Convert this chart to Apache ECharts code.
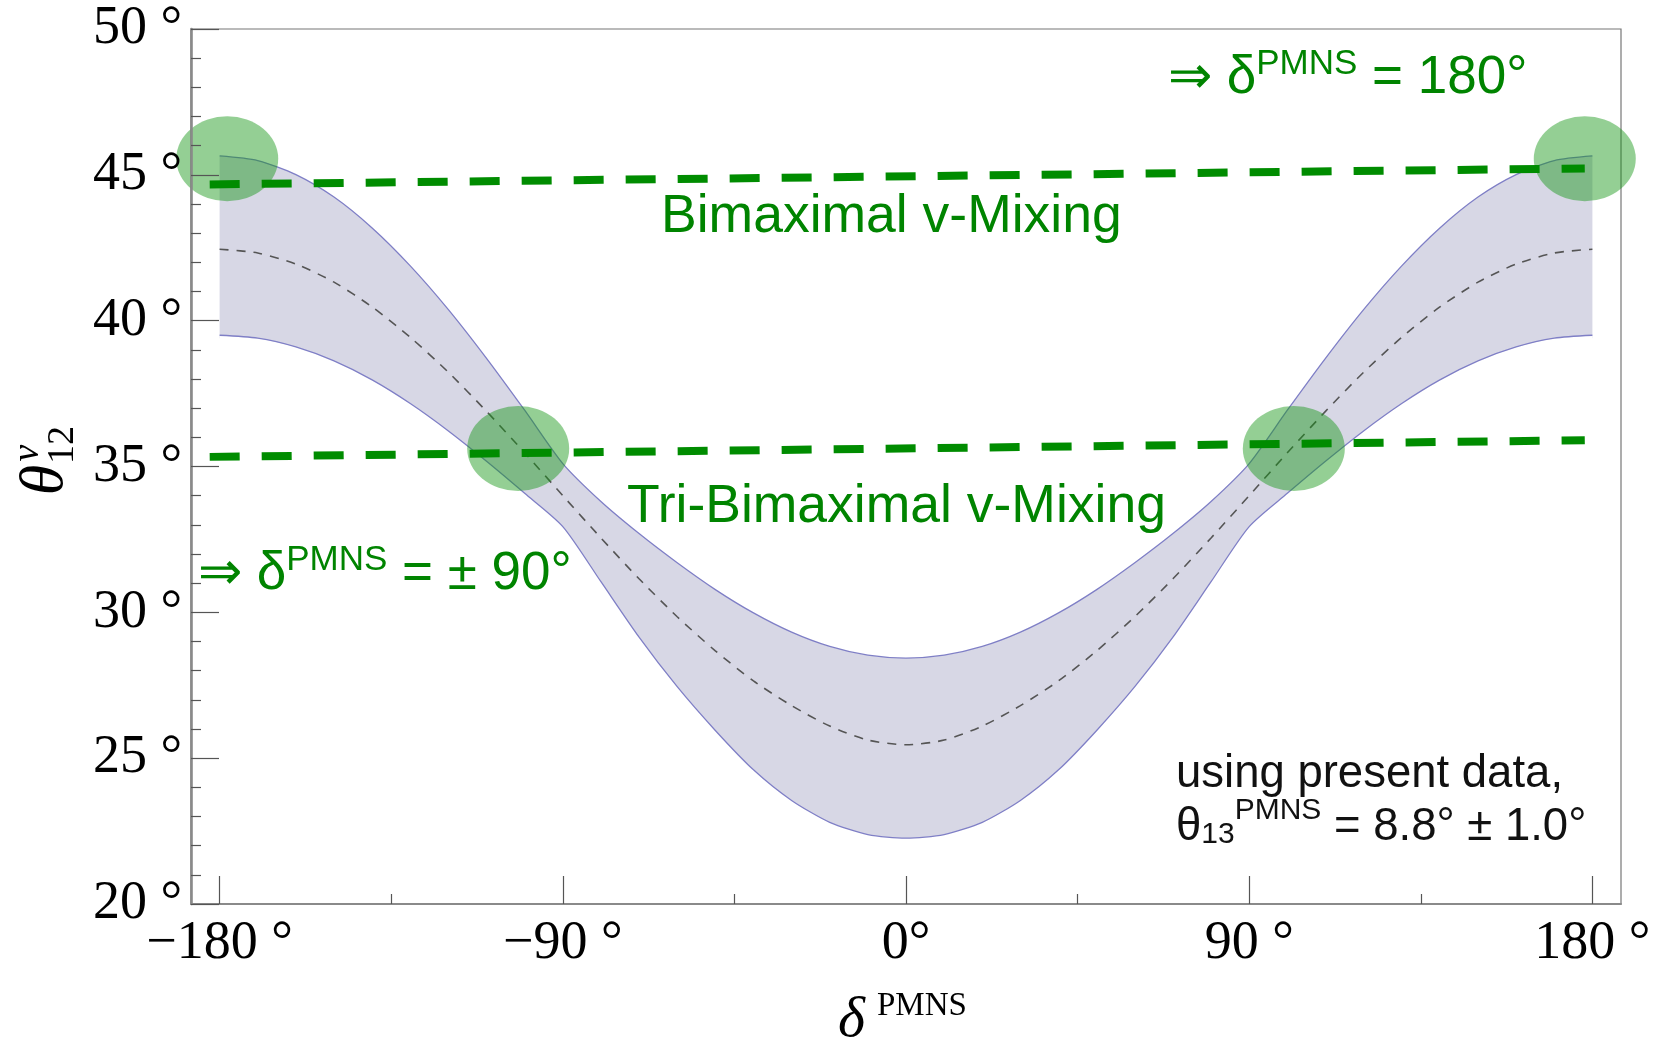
<!DOCTYPE html>
<html><head><meta charset="utf-8">
<script src="https://cdn.jsdelivr.net/npm/echarts@6/dist/echarts.min.js"></script>
<style>html,body{margin:0;padding:0;background:#fff;}#c{width:1657px;height:1042px;}</style>
</head><body><div id="c"></div>
<script>
// ---- data ----
const deltas = [-180,-170,-160,-150,-140,-130,-120,-110,-100,-90,-80,-70,-60,-50,-40,-30,-20,-10,0,10,20,30,40,50,60,70,80,90,100,110,120,130,140,150,160,170,180];
const upperBound = [45.65,45.49,45.01,44.24,43.18,41.88,40.38,38.71,36.93,35.10,33.80,32.70,31.70,30.78,29.98,29.32,28.83,28.53,28.43,28.53,28.83,29.32,29.98,30.78,31.70,32.70,33.80,35.10,36.93,38.71,40.38,41.88,43.18,44.24,45.01,45.49,45.65];
const centralValue = [42.45,42.32,41.94,41.32,40.47,39.43,38.23,36.89,35.47,34.00,32.55,31.15,29.85,28.68,27.65,26.80,26.10,25.62,25.46,25.62,26.10,26.80,27.65,28.68,29.85,31.15,32.55,34.00,35.47,36.89,38.23,39.43,40.47,41.32,41.94,42.32,42.45];
const lowerBound = [39.50,39.40,39.10,38.62,37.97,37.16,36.22,35.18,34.08,32.94,31.05,29.15,27.45,25.95,24.60,23.55,22.80,22.38,22.26,22.38,22.80,23.55,24.60,25.95,27.45,29.15,31.05,32.94,34.08,35.18,36.22,37.16,37.97,38.62,39.10,39.40,39.50];
const xTickValues = [-180,-90,0,90,180];
const xTickLabels = ['\u2212180 \u00b0','\u221290 \u00b0','0\u00b0','90 \u00b0','180 \u00b0'];
const xMinorTicks = [-135,-45,45,135];
const yTickValues = [20,25,30,35,40,45,50];
const yTickLabels = ['20 \u00b0','25 \u00b0','30 \u00b0','35 \u00b0','40 \u00b0','45 \u00b0','50 \u00b0'];
const circleX = [-178,-101.7,101.7,178];
const circleY = [45.55,35.62,35.62,45.55];
const bimaxX = [-182.6,178];
const bimaxY = [44.67,45.22];
const tbmX = [-182.6,178];
const tbmY = [35.33,35.90];

// ---- chart ----
const chart = echarts.init(document.getElementById('c'), null, {renderer:'canvas'});
const zip = (xs, ys) => xs.map((x, i) => [x, ys[i]]);
const GRID = {left:191, right:36, top:29, bottom:138};
const serif = "'Liberation Serif','Times New Roman',serif";
const sans = "'Liberation Sans',Arial,sans-serif";
const green = '#008400';
const bandLine = '#7f7fc6';
const yMin = yTickValues[0];
const nLast = deltas.length - 1;

const option = {
  animation:false,
  backgroundColor:'#fff',
  grid:[
    Object.assign({show:true, borderColor:'#777', borderWidth:1.2, backgroundColor:'transparent'}, GRID),
    Object.assign({show:false}, GRID)
  ],
  xAxis:[
    {type:'value', gridIndex:0, min:-187.5, max:187.5, position:'bottom', z:8,
     axisLine:{show:true, onZero:false, lineStyle:{color:'#8a8a8a', width:2}},
     axisTick:{show:true, inside:true, length:28, customValues:xTickValues, lineStyle:{color:'#555', width:1.2}},
     axisLabel:{show:true, customValues:xTickValues, margin:13, fontFamily:serif, fontSize:54, color:'#000',
       formatter:(v)=>{const i = xTickValues.indexOf(Math.round(v)); return i>=0 ? xTickLabels[i] : '';}},
     splitLine:{show:false}},
    {type:'value', gridIndex:1, min:-187.5, max:187.5, position:'bottom', z:8,
     axisLine:{show:false, onZero:false},
     axisTick:{show:true, inside:true, length:10, customValues:xMinorTicks, lineStyle:{color:'#555', width:1.2}},
     axisLabel:{show:false}, splitLine:{show:false}}
  ],
  yAxis:[
    {type:'value', gridIndex:0, min:20, max:50, interval:5, z:8,
     axisLine:{show:true, onZero:false, lineStyle:{color:'#8a8a8a', width:2.6}},
     axisTick:{show:true, inside:true, length:28, lineStyle:{color:'#555', width:1.2}},
     minorTick:{show:true, splitNumber:5, length:10, lineStyle:{color:'#555', width:1.2}},
     axisLabel:{margin:9, fontFamily:serif, fontSize:54, color:'#000',
       formatter:(v)=>{const i = yTickValues.indexOf(Math.round(v)); return i>=0 ? yTickLabels[i] : '';}},
     splitLine:{show:false}},
    {type:'value', gridIndex:1, min:20, max:50, show:false}
  ],
  series:[
    // band: fill under the upper bound, then mask below the lower bound with white
    {type:'line', name:'upper', data:zip(deltas, upperBound), showSymbol:false, z:1, smooth:0.25,
     lineStyle:{color:bandLine, width:1.3}, areaStyle:{color:'#d7d7e5', opacity:1, origin:'start'}},
    {type:'line', name:'lower', data:zip(deltas, lowerBound), showSymbol:false, z:2, smooth:0.25,
     lineStyle:{color:bandLine, width:1.3}, areaStyle:{color:'#ffffff', opacity:1, origin:'start'},
     markLine:{silent:true, symbol:['none','none'], label:{show:false}, animation:false,
       lineStyle:{color:'#ffffff', width:3, type:'solid'},
       data:[
         [{coord:[deltas[0], yMin]}, {coord:[deltas[0], lowerBound[0] - 0.1]}],
         [{coord:[deltas[nLast], yMin]}, {coord:[deltas[nLast], lowerBound[nLast] - 0.1]}]
       ]}},
    {type:'line', name:'central', data:zip(deltas, centralValue), showSymbol:false, z:3, smooth:0.25,
     lineStyle:{color:'#555', width:1.6, type:[9,8]}},
    {type:'scatter', name:'points', data:zip(circleX, circleY), symbol:'circle', symbolSize:[102,85], z:4,
     itemStyle:{color:'rgba(20,150,20,0.57)'}},
    {type:'line', name:'bimax', data:zip(bimaxX, bimaxY), showSymbol:false, z:5,
     lineStyle:{color:'#008c00', width:8, type:[30,22], cap:'butt'}},
    {type:'line', name:'tbm', data:zip(tbmX, tbmY), showSymbol:false, z:5,
     lineStyle:{color:'#008c00', width:8, type:[30,22], cap:'butt'}}
  ],
  graphic:[
    {type:'text', x:1168, y:76, z:10, style:{
      text:'{a|\u21d2 \u03b4}{s|PMNS}{a| = 180\u00b0}', verticalAlign:'middle', fill:green,
      rich:{a:{fontFamily:sans, fontSize:53, lineHeight:58, verticalAlign:'bottom', fill:green},
            s:{fontFamily:sans, fontSize:35, lineHeight:42, verticalAlign:'top', fill:green}}}},
    {type:'text', x:661, y:217, z:10, style:{
      text:'Bimaximal v-Mixing', verticalAlign:'middle', fill:green, fontFamily:sans, fontSize:53.5}},
    {type:'text', x:627, y:507, z:10, style:{
      text:'Tri-Bimaximal v-Mixing', verticalAlign:'middle', fill:green, fontFamily:sans, fontSize:53.5}},
    {type:'text', x:198, y:572, z:10, style:{
      text:'{a|\u21d2 \u03b4}{s|PMNS}{a| = \u00b1 90\u00b0}', verticalAlign:'middle', fill:green,
      rich:{a:{fontFamily:sans, fontSize:53, lineHeight:58, verticalAlign:'bottom', fill:green},
            s:{fontFamily:sans, fontSize:35, lineHeight:42, verticalAlign:'top', fill:green}}}},
    {type:'text', x:1176, y:774, z:10, style:{
      text:'using present data,', verticalAlign:'middle', fill:'#111', fontFamily:sans, fontSize:45.5}},
    {type:'text', x:1176, y:823, z:10, style:{
      text:'{a|\u03b8}{b|13}{s|PMNS}{a| = 8.8\u00b0 \u00b1 1.0\u00b0}', verticalAlign:'middle', fill:'#111',
      rich:{a:{fontFamily:sans, fontSize:45.5, lineHeight:54, verticalAlign:'bottom', fill:'#111'},
            b:{fontFamily:sans, fontSize:30, lineHeight:33, verticalAlign:'bottom', fill:'#111'},
            s:{fontFamily:sans, fontSize:30, lineHeight:37, verticalAlign:'top', fill:'#111'}}}},
    // x axis title
    {type:'text', x:838, y:1020, z:10, style:{
      text:'{d|\u03b4}{s|PMNS}', verticalAlign:'middle', fill:'#000',
      rich:{d:{fontFamily:serif, fontStyle:'italic', fontSize:58, lineHeight:60, verticalAlign:'bottom', fill:'#000'},
            s:{fontFamily:serif, fontSize:33, lineHeight:38, verticalAlign:'top', padding:[0,0,0,12], fill:'#000'}}}},
    // y axis title (rotated)
    {type:'text', x:46, y:480, rotation:Math.PI/2, z:10, style:{
      text:'\u03b8', align:'center', verticalAlign:'middle', fill:'#000', fontFamily:serif, fontStyle:'italic', fontSize:62}},
    {type:'text', x:63, y:445, rotation:Math.PI/2, z:10, style:{
      text:'12', align:'center', verticalAlign:'middle', fill:'#000', fontFamily:serif, fontSize:38}},
    {type:'text', x:28, y:453, rotation:Math.PI/2, z:10, style:{
      text:'\u03bd', align:'center', verticalAlign:'middle', fill:'#000', fontFamily:serif, fontStyle:'italic', fontSize:38}}
  ]
};
chart.setOption(option);
</script></body></html>
